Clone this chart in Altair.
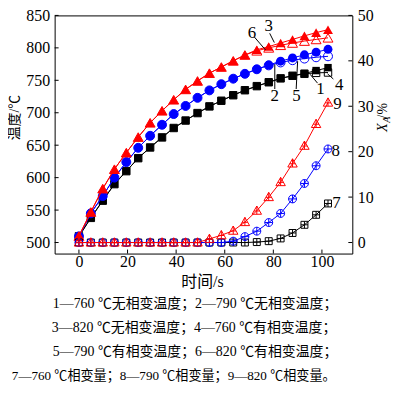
import altair as alt
import pandas as pd

# ---------------- data ----------------
time_s = [0, 4.9, 9.8, 14.6, 19.5, 24.4, 29.3, 34.2, 39.0, 43.9, 48.8,
          53.7, 58.6, 63.5, 68.3, 73.2, 78.1, 83.0, 87.9, 92.8, 97.6, 102.5]

# temperatures (left axis)
t760_no = [509.5, 538, 564.5, 590, 610, 630, 646.5, 662, 676.5, 688, 699.5,
           709.8, 718.5, 727, 734.7, 741, 747, 753, 757, 760.5, 765, 769.5]
t790_no = [509.5, 545, 571.6, 600, 624, 646, 664.5, 681.5, 698, 710.5, 723,
           734.5, 744, 752.5, 760, 767, 773.5, 779.5, 784.5, 789.3, 793.3, 797.8]
t820_no = [510, 547, 583, 613, 638.5, 662.5, 684.5, 703, 720, 736, 749,
           761, 770.5, 780, 789, 797, 802, 807.5, 813, 818.5, 823.5, 828]
t760_ph = [509.5, 538, 564.5, 590, 610, 630, 646.5, 662, 676.5, 688, 699.5,
           709.8, 718.5, 727, 734.7, 741, 747, 753, 757, 760, 761.5, 762]
t790_ph = [509.5, 545, 571.6, 600, 624, 646, 664.5, 681.5, 698, 710.5, 723,
           734.5, 744, 752.5, 760, 767, 773, 777.5, 781, 783.5, 785.5, 787]
t820_ph = [510, 547, 583, 613, 638.5, 662.5, 684.5, 703, 720, 736, 749,
           761, 770.5, 780, 789, 795.5, 800, 804, 807.5, 810.5, 813, 815.5]

# phase fraction X_A (right axis)
xa760 = [0, 0, 0, 0, 0, 0, 0, 0, 0, 0, 0,
         0, 0, 0, 0, 0.1, 0.3, 0.9, 2.1, 3.9, 6.1, 8.6]
xa790 = [0, 0, 0, 0, 0, 0, 0, 0, 0, 0, 0,
         0, 0, 0.3, 1.3, 2.5, 4.4, 6.4, 9.6, 13.0, 16.9, 20.6]
xa820 = [0, 0, 0, 0, 0, 0, 0, 0, 0, 0, 0,
         0.8, 1.6, 2.6, 4.5, 7.0, 10.0, 13.3, 17.4, 21.3, 26.1, 30.8]

x_ticks = [0, 20, 40, 60, 80, 100]
left_ticks = [500, 550, 600, 650, 700, 750, 800, 850]
right_ticks = [0, 10, 20, 30, 40, 50]

# curve number labels
lab_temp_text = ['1', '2', '3', '4', '5', '6']
lab_temp_t = [99.4, 80.6, 78.1, 107.1, 89.5, 71.2]
lab_temp_v = [737.1, 726.2, 833.6, 742.1, 726.2, 823.4]
lead_t1 = [95.1, 80.6, 78.5, 102.3, 90.0, 72.2]
lead_v1 = [759.4, 774.7, 822.4, 760.0, 779.4, 816.7]
lead_t2 = [98.2, 80.6, 80.4, 104.7, 89.4, 76.8]
lead_v2 = [745.6, 736.6, 808.2, 752.0, 736.6, 796.7]

lab_ph_text = ['7', '8', '9']
lab_ph_t = [106.0, 105.7, 106.4]
lab_ph_v = [8.7, 20.2, 30.4]

legend_lines = [
    "1—760 ℃无相变温度；2—790 ℃无相变温度；",
    "3—820 ℃无相变温度；4—760 ℃有相变温度；",
    "5—790 ℃有相变温度；6—820 ℃有相变温度；",
    "7—760 ℃相变量；8—790 ℃相变量；9—820 ℃相变量。",
]

# ---------------- styling ----------------
W, H = 300, 240
SERIF = "Liberation Serif"
MIX = "Liberation Serif, Noto Sans CJK SC"
RED, BLUE, BLACK = "#ff0000", "#0000ff", "#000000"

xscale = alt.Scale(domain=[-10, 112.5], nice=False, zero=False)
ylscale = alt.Scale(domain=[483, 850], nice=False, zero=False)
yrscale = alt.Scale(domain=[-2.43, 50], nice=False, zero=False)

xaxis = alt.Axis(values=x_ticks, title=None, ticks=False, domain=False, grid=False,
                 orient="bottom", labelFont=SERIF, labelFontSize=16, labelColor="black",
                 labelPadding=0, labelFlush=False)
ylaxis = alt.Axis(values=left_ticks, title=None, ticks=False, domain=False, grid=False,
                  orient="left", labelFont=SERIF, labelFontSize=16, labelColor="black",
                  labelPadding=5, labelOverlap=False)
yraxis = alt.Axis(values=right_ticks, title=None, ticks=False, domain=False, grid=False,
                  orient="right", labelFont=SERIF, labelFontSize=16, labelColor="black",
                  labelPadding=5, labelOverlap=False)

SQ_PLUS = "M-1,-1L1,-1L1,1L-1,1Z M0,-1L0,1 M-1,0L1,0"
CI_PLUS = "M1,0A1,1,0,1,1,-1,0A1,1,0,1,1,1,0Z M0,-1L0,1 M-1,0L1,0"
TR_PLUS = "M0,-1L1,0.75L-1,0.75Z M0,-1L0,0.75 M-0.6,0.05L0.6,0.05"


def X(field):
    return alt.X(field, scale=xscale, axis=xaxis)


def YL(field):
    return alt.Y(field, scale=ylscale, axis=ylaxis)


def YR(field):
    return alt.Y(field, scale=yrscale, axis=yraxis)


def series(vals, Yf, color, shape, size, filled):
    df = pd.DataFrame({"t": time_s, "v": vals})
    base = alt.Chart(df)
    enc = dict(x=X("t:Q"), y=Yf("v:Q"))
    line = base.mark_line(color=color, strokeWidth=1).encode(**enc)
    pts = base.mark_point(shape=shape, size=size, filled=filled, color=color,
                          strokeWidth=1, opacity=1).encode(**enc)
    return [line, pts]


left_layers = []
left_layers += series(t760_ph, YL, BLACK, "square", 56, False)
left_layers += series(t760_no, YL, BLACK, "square", 56, True)
left_layers += series(t790_ph, YL, BLUE, "circle", 81, False)
left_layers += series(t790_no, YL, BLUE, "circle", 81, True)
left_layers += series(t820_ph, YL, RED, "triangle-up", 100, False)
left_layers += series(t820_no, YL, RED, "triangle-up", 100, True)

# inward ticks
left_layers.append(
    alt.Chart(pd.DataFrame({"v": left_ticks})).mark_rule(color="black", strokeWidth=1)
    .encode(y=YL("v:Q"), x=alt.value(0), x2=alt.value(4)))
left_layers.append(
    alt.Chart(pd.DataFrame({"t": x_ticks})).mark_rule(color="black", strokeWidth=1)
    .encode(x=X("t:Q"), y=alt.value(H), y2=alt.value(H - 4)))

# leaders and labels
lead_df = pd.DataFrame({"t1": lead_t1, "v1": lead_v1, "t2": lead_t2, "v2": lead_v2})
left_layers.append(
    alt.Chart(lead_df).mark_rule(color="black", strokeWidth=1).encode(
        x=X("t1:Q"), x2="t2:Q", y=YL("v1:Q"), y2="v2:Q"))
lab_df = pd.DataFrame({"t": lab_temp_t, "v": lab_temp_v, "s": lab_temp_text})
left_layers.append(
    alt.Chart(lab_df).mark_text(font=SERIF, fontSize=17, color="black",
                                align="center", baseline="middle").encode(
        x=X("t:Q"), y=YL("v:Q"), text="s:N"))


# texts outside plot
def free_text(txt, x, y, size, font=MIX, angle=0, style="normal"):
    return alt.Chart(pd.DataFrame({"s": [txt]})).mark_text(
        font=font, fontSize=size, color="black", align="center", baseline="middle",
        angle=angle, fontStyle=style).encode(
        text="s:N", x=alt.value(x), y=alt.value(y))


left_layers.append(free_text("时间/s", 149, 269, 16))
left_layers.append(free_text("温度/℃", -40, 103, 14, angle=270))
left_layers.append(free_text("X", 331, 113, 14, font=SERIF, angle=270, style="italic"))
left_layers.append(free_text("A", 335, 105, 10, font=SERIF, angle=270, style="italic"))
left_layers.append(free_text("/%", 331, 96, 14, font=SERIF, angle=270))

leg_x = [141.5, 140.5, 141.5, 120]
leg_y = [291, 315, 339, 363]
leg_size = [14, 14, 14, 13.2]
for txt, lx, ly, fs in zip(legend_lines, leg_x, leg_y, leg_size):
    left_layers.append(free_text(txt, lx, ly, fs))

left = alt.layer(*left_layers)

right_layers = []
right_layers += series(xa760, YR, BLACK, SQ_PLUS, 49, False)
right_layers += series(xa790, YR, BLUE, CI_PLUS, 64, False)
right_layers += series(xa820, YR, RED, TR_PLUS, 90, False)
right_layers.append(
    alt.Chart(pd.DataFrame({"v": right_ticks})).mark_rule(color="black", strokeWidth=1)
    .encode(y=YR("v:Q"), x=alt.value(W), x2=alt.value(W - 4)))
labp_df = pd.DataFrame({"t": lab_ph_t, "v": lab_ph_v, "s": lab_ph_text})
right_layers.append(
    alt.Chart(labp_df).mark_text(font=SERIF, fontSize=17, color="black",
                                 align="center", baseline="middle").encode(
        x=X("t:Q"), y=YR("v:Q"), text="s:N"))
right = alt.layer(*right_layers)

chart = alt.layer(left, right).resolve_scale(y="independent").properties(
    width=W, height=H,
    padding={"left": 47, "top": 6, "right": 40, "bottom": 132},
    autosize=alt.AutoSizeParams(type="none"),
    background="white",
).configure_view(stroke="black", strokeWidth=1)

chart.save("out.html", embed_options={"renderer": "svg", "actions": False})
